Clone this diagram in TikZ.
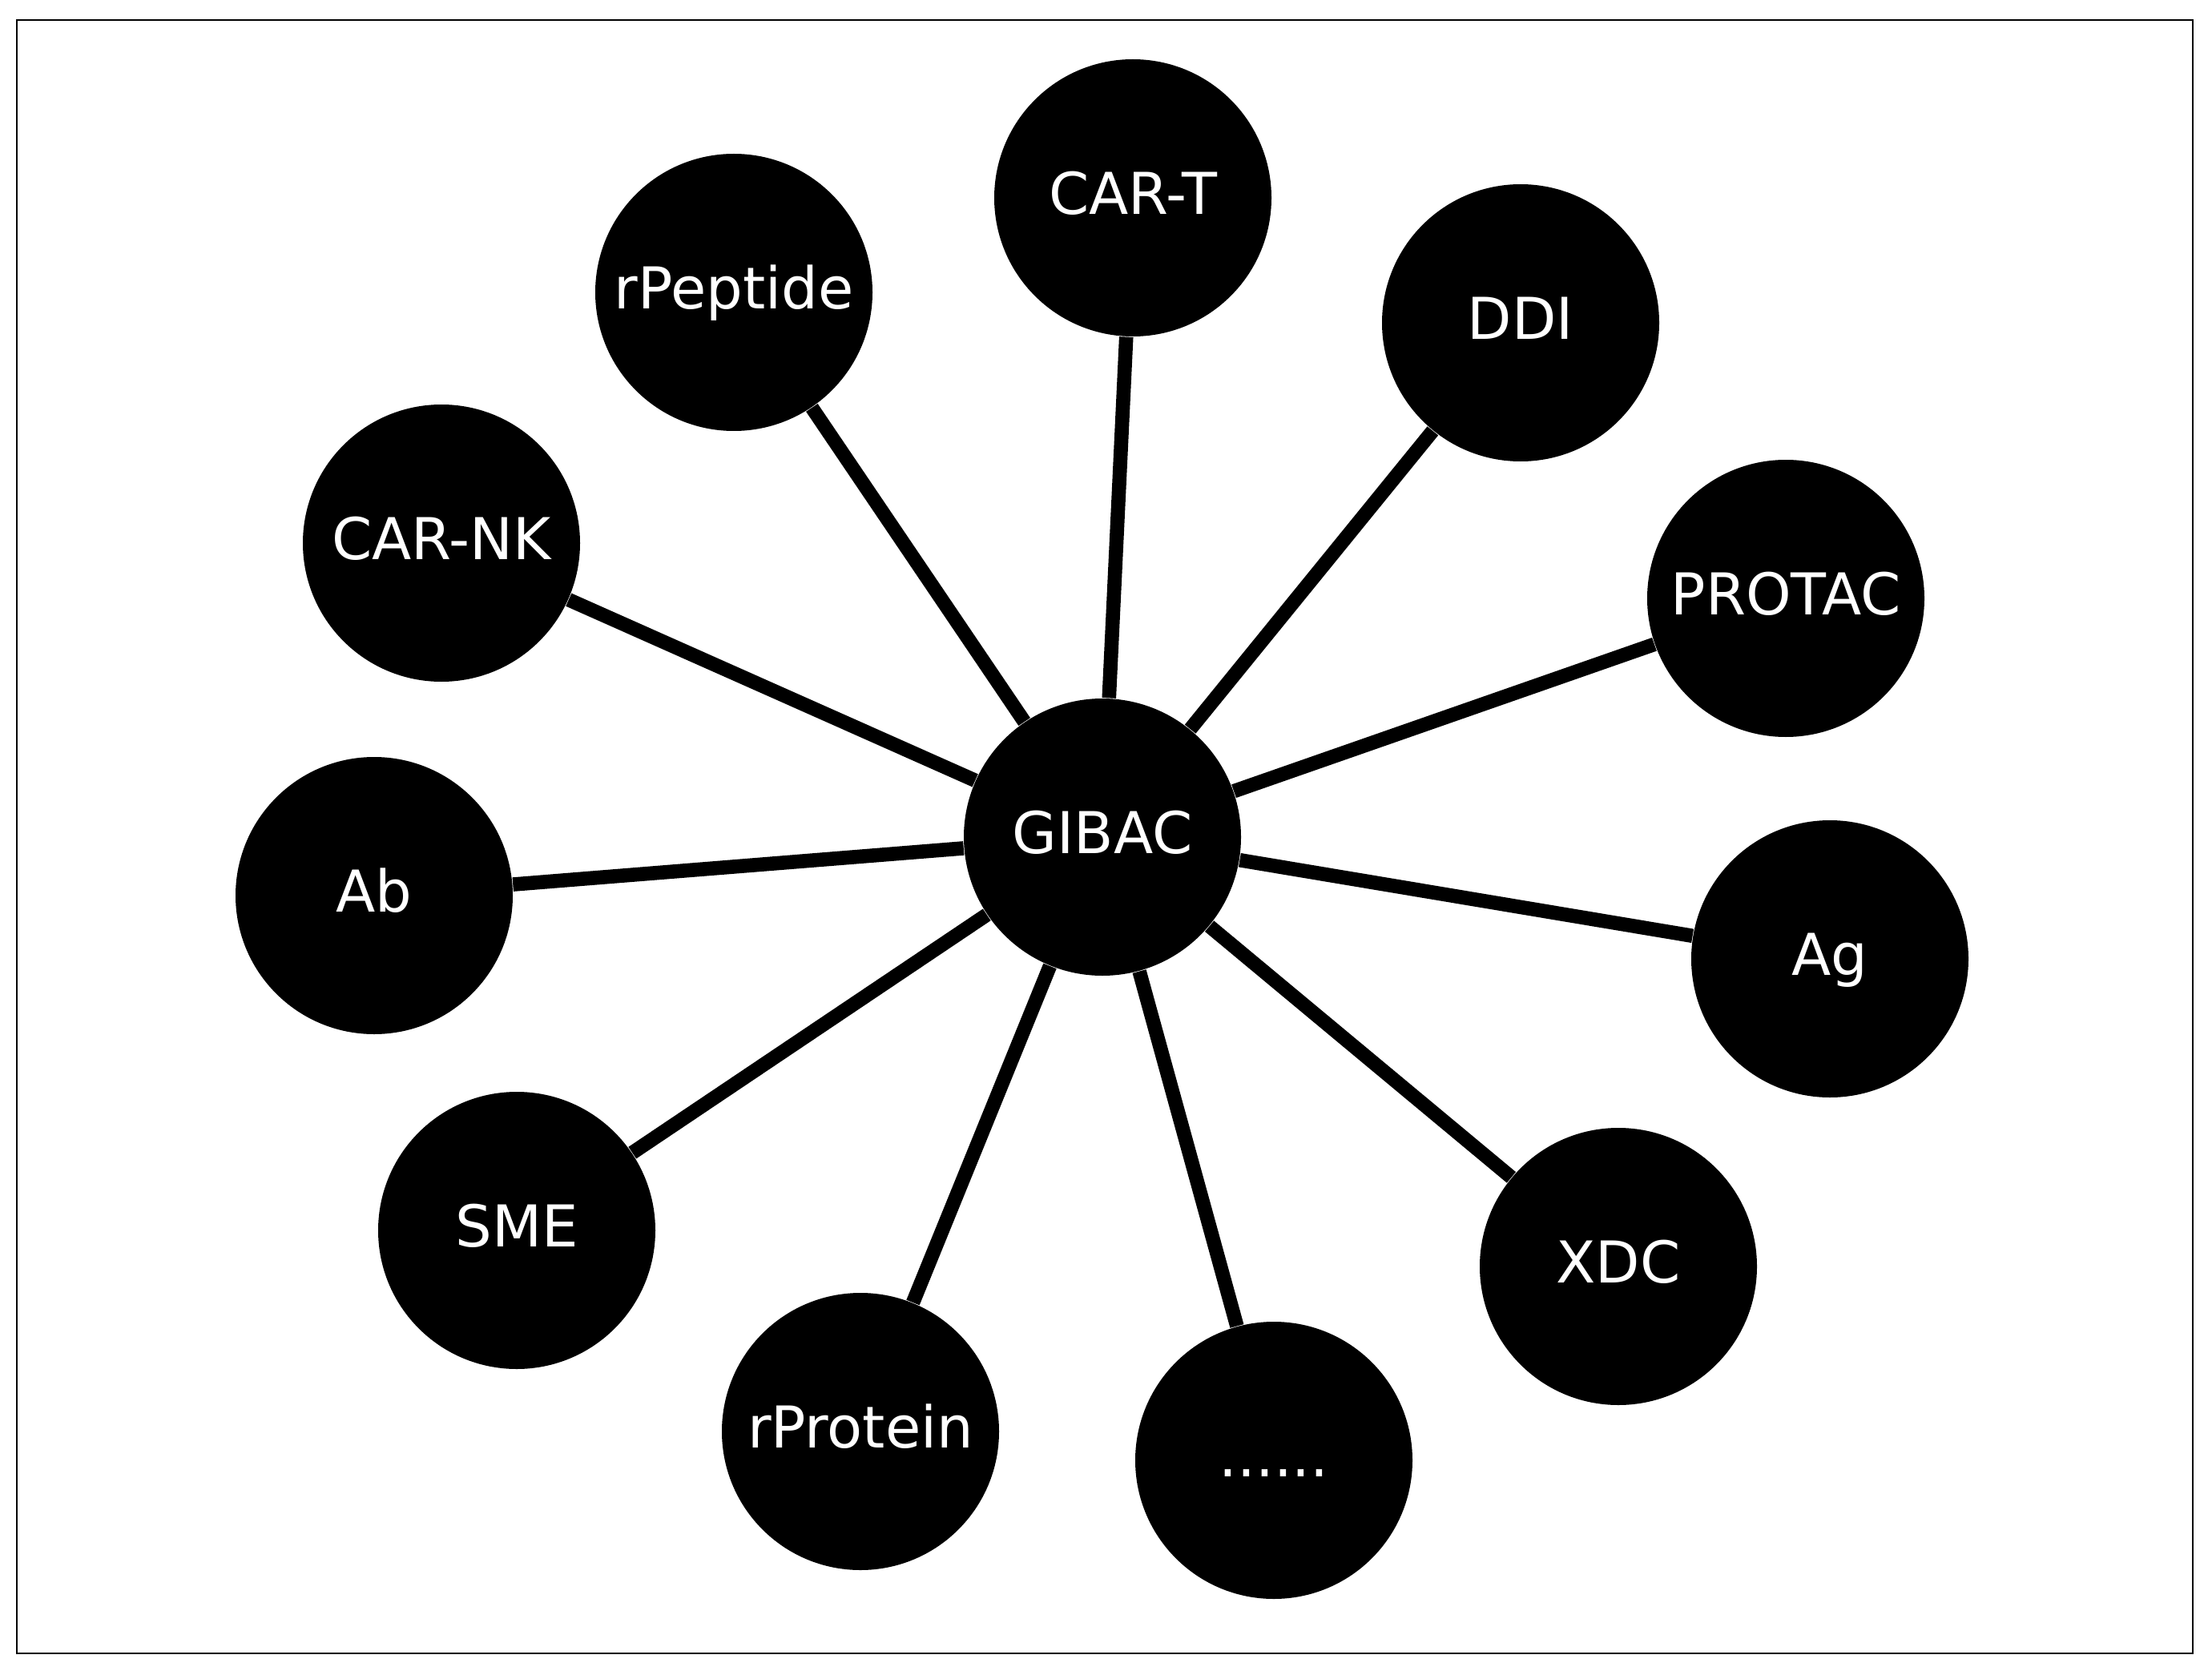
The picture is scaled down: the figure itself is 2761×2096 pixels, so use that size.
\documentclass[tikz,border=0pt]{standalone}
\usepackage{fontspec}
\setmainfont{DejaVu Sans}
\begin{document}
\begin{tikzpicture}[x=0.25pt,y=-0.25pt,
  bubble/.style={circle,fill=black,draw=none,minimum size=86.5pt,inner sep=0pt,text=white,
    text height=13.1pt,text depth=3pt,font=\fontsize{18}{20}\selectfont},
  link/.style={line width=4.4pt,black,line cap=butt}]
\useasboundingbox (0,0) rectangle (2761,2096);
\draw[line width=0.6pt] (21,25) rectangle (2737,2064);
\node[bubble] (g) at (1376,1045) {GIBAC};
\node[bubble] (cart) at (1414,247) {CAR-T};
\node[bubble] (rpep) at (916,365) {rPeptide};
\node[bubble] (ddi) at (1898,403) {DDI};
\node[bubble] (carnk) at (551,678) {CAR-NK};
\node[bubble] (protac) at (2229,747) {PROTAC};
\node[bubble] (ab) at (467,1118) {Ab};
\node[bubble] (ag) at (2284,1197) {Ag};
\node[bubble] (sme) at (645,1536) {SME};
\node[bubble] (xdc) at (2020,1581) {XDC};
\node[bubble] (rprot) at (1074,1787) {rProtein};
\node[bubble] (dots) at (1590,1823) {......};
\foreach \n in {cart,rpep,ddi,carnk,protac,ab,ag,sme,xdc,rprot,dots}
  \draw[link] (g) -- (\n);
\end{tikzpicture}
\end{document}
